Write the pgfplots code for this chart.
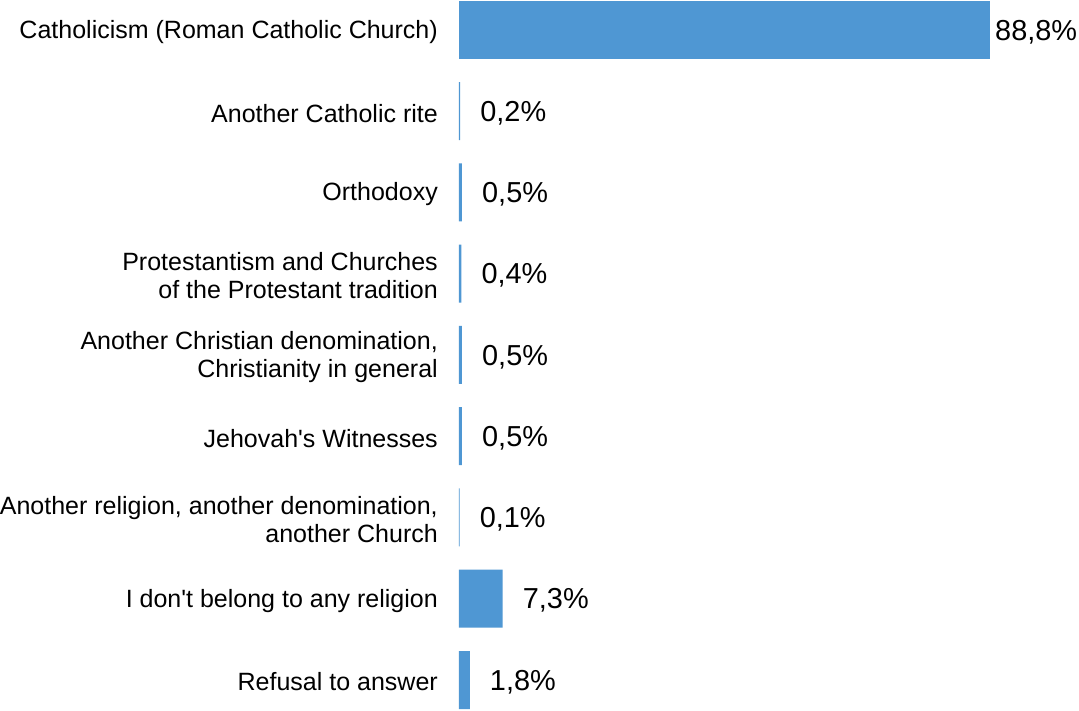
\documentclass[border=0pt]{standalone}
\usepackage{pgfplots}
\pgfplotsset{compat=1.18}
\usepackage{fontspec}
\setmainfont{Liberation Sans}
\definecolor{barblue}{HTML}{4F97D3}
\begin{document}
\begin{tikzpicture}
\begin{axis}[
  name=ax, at={(0,0)}, anchor=south west,
  scale only axis, width=620bp, height=711bp,
  xmin=0, xmax=103.68, ymin=-0.3815, ymax=8.369,
  xbar, bar width=58bp, bar shift=0pt,
  clip=false,
  axis line style={draw=none},
  xtick=\empty,
  ytick={0,...,8},
  major tick length=0pt,
  yticklabels={
    Refusal to answer,
    I don\textquotesingle t belong to any religion,
    {Another religion, another denomination,\\ another Church},
    Jehovah\textquotesingle s Witnesses,
    {Another Christian denomination,\\ Christianity in general},
    {Protestantism and Churches\\ of the Protestant tradition},
    Orthodoxy,
    Another Catholic rite,
    Catholicism (Roman Catholic Church)},
  yticklabel style={align=right, inner sep=0pt, xshift=-21bp, yshift=-2bp,
    font=\fontsize{25.1}{27.5}\selectfont},
  nodes near coords={\pgfmathprintnumber[use comma,fixed,precision=1,fixed zerofill,assume math mode=true]{\pgfplotspointmeta}\%},
  nodes near coords style={anchor=west, inner sep=0pt, yshift=-2bp, font=\fontsize{29}{31}\selectfont, text=black},
]
\addplot[fill=barblue, draw=none, nodes near coords style={xshift=20bp}] coordinates {
  (0.2,7) (0.5,6) (0.4,5) (0.5,4) (0.5,3) (0.1,2) (7.3,1) (1.8,0)};
\addplot[fill=barblue, draw=none, nodes near coords style={xshift=5bp}] coordinates {
  (88.8,8)};
\end{axis}
\pgfresetboundingbox
\useasboundingbox ([xshift=-459bp]ax.south west) rectangle (ax.north east);
\end{tikzpicture}
\end{document}
